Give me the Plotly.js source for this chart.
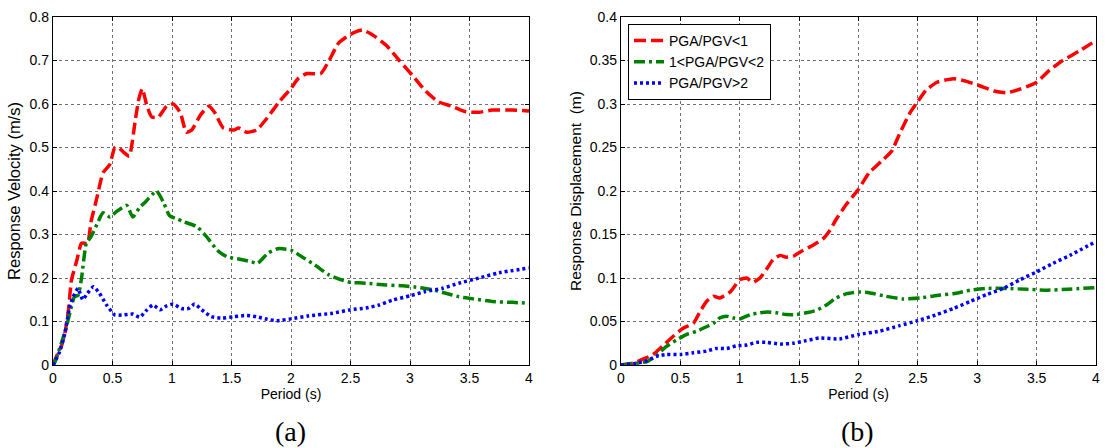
<!DOCTYPE html>
<html>
<head>
<meta charset="utf-8">
<script src="https://cdn.plot.ly/plotly-3.0.1.min.js"></script>
<style>
  html, body { margin: 0; padding: 0; background: #fff; }
  #chart { width: 1109px; height: 448px; }
</style>
</head>
<body>
<div id="chart"></div>
<script>
// Series labels (PGA/PGV ratio groups)
const seriesNames = ['PGA/PGV<1', '1<PGA/PGV<2', 'PGA/PGV>2'];

// (a) Response velocity spectra, m/s
const velPeriodLow = [0, 0.03, 0.07, 0.1, 0.13, 0.155, 0.2, 0.24, 0.29, 0.32, 0.365, 0.39, 0.42, 0.475, 0.52, 0.55, 0.59, 0.64, 0.69, 0.72, 0.75, 0.79, 0.83, 0.885, 0.955, 1.01, 1.07, 1.12, 1.165, 1.24, 1.31, 1.36, 1.43, 1.52, 1.56, 1.63, 1.71, 1.8, 1.9, 2.0, 2.065, 2.135, 2.25, 2.32, 2.4, 2.5, 2.6, 2.68, 2.8, 2.91, 3.02, 3.13, 3.24, 3.36, 3.47, 3.58, 3.69, 3.86, 4.0];
const velLow       = [0, 0.02, 0.043, 0.073, 0.127, 0.195, 0.24, 0.28, 0.28, 0.33, 0.38, 0.41, 0.442, 0.46, 0.5, 0.5, 0.49, 0.48, 0.56, 0.61, 0.635, 0.595, 0.57, 0.57, 0.595, 0.6, 0.58, 0.535, 0.54, 0.575, 0.595, 0.58, 0.545, 0.54, 0.545, 0.535, 0.54, 0.568, 0.605, 0.636, 0.66, 0.67, 0.67, 0.7, 0.74, 0.76, 0.77, 0.76, 0.735, 0.7, 0.666, 0.63, 0.605, 0.594, 0.582, 0.581, 0.586, 0.586, 0.584];

const velPeriodMid = [0, 0.014, 0.07, 0.11, 0.155, 0.18, 0.21, 0.24, 0.28, 0.32, 0.38, 0.42, 0.48, 0.53, 0.62, 0.67, 0.73, 0.77, 0.87, 0.93, 0.98, 1.05, 1.1, 1.21, 1.29, 1.38, 1.46, 1.57, 1.67, 1.72, 1.81, 1.9, 2.0, 2.09, 2.2, 2.32, 2.43, 2.5, 2.63, 2.8, 2.94, 3.05, 3.19, 3.3, 3.41, 3.53, 3.69, 3.86, 4.0];
const velMid       = [0, 0.006, 0.05, 0.085, 0.135, 0.157, 0.16, 0.2, 0.28, 0.295, 0.33, 0.35, 0.34, 0.352, 0.367, 0.34, 0.363, 0.373, 0.4, 0.373, 0.343, 0.335, 0.329, 0.318, 0.295, 0.264, 0.249, 0.243, 0.237, 0.234, 0.258, 0.268, 0.264, 0.249, 0.23, 0.207, 0.195, 0.19, 0.188, 0.184, 0.182, 0.179, 0.173, 0.165, 0.157, 0.152, 0.146, 0.144, 0.142];

const velPeriodHigh = [0, 0.014, 0.056, 0.1, 0.14, 0.17, 0.21, 0.25, 0.29, 0.34, 0.39, 0.45, 0.52, 0.59, 0.67, 0.73, 0.79, 0.84, 0.9, 0.955, 1.01, 1.08, 1.14, 1.19, 1.25, 1.33, 1.42, 1.52, 1.63, 1.71, 1.8, 1.88, 2.0, 2.15, 2.35, 2.5, 2.63, 2.74, 2.85, 3.0, 3.13, 3.27, 3.41, 3.58, 3.75, 4.0];
const velHigh       = [0, 0.006, 0.031, 0.073, 0.134, 0.157, 0.176, 0.15, 0.165, 0.18, 0.165, 0.138, 0.115, 0.115, 0.117, 0.11, 0.127, 0.138, 0.127, 0.136, 0.14, 0.13, 0.13, 0.14, 0.127, 0.111, 0.108, 0.111, 0.114, 0.111, 0.105, 0.102, 0.106, 0.113, 0.119, 0.127, 0.131, 0.138, 0.149, 0.159, 0.169, 0.176, 0.188, 0.2, 0.212, 0.223];

// (b) Response displacement spectra, m
const dispPeriodLow = [0, 0.1, 0.19, 0.27, 0.36, 0.44, 0.52, 0.61, 0.66, 0.72, 0.78, 0.83, 0.92, 1.0, 1.06, 1.11, 1.17, 1.23, 1.28, 1.34, 1.39, 1.45, 1.51, 1.62, 1.7, 1.76, 1.81, 1.9, 2.0, 2.09, 2.2, 2.28, 2.35, 2.43, 2.5, 2.57, 2.66, 2.8, 2.91, 3.02, 3.14, 3.25, 3.36, 3.5, 3.61, 3.72, 3.86, 4.0];
const dispLow       = [0, 0.002, 0.007, 0.012, 0.023, 0.033, 0.042, 0.048, 0.06, 0.073, 0.079, 0.077, 0.084, 0.098, 0.1, 0.095, 0.1, 0.111, 0.121, 0.126, 0.124, 0.125, 0.13, 0.138, 0.145, 0.155, 0.167, 0.185, 0.202, 0.221, 0.235, 0.246, 0.267, 0.289, 0.303, 0.316, 0.325, 0.329, 0.326, 0.321, 0.315, 0.313, 0.317, 0.325, 0.339, 0.35, 0.361, 0.373];

const dispPeriodMid = [0, 0.13, 0.22, 0.3, 0.38, 0.47, 0.55, 0.64, 0.72, 0.78, 0.83, 0.89, 0.95, 1.0, 1.09, 1.17, 1.23, 1.31, 1.39, 1.48, 1.56, 1.65, 1.73, 1.81, 1.9, 2.0, 2.09, 2.23, 2.37, 2.52, 2.66, 2.8, 2.94, 3.08, 3.25, 3.42, 3.59, 3.76, 4.0];
const dispMid       = [0, 0.002, 0.004, 0.011, 0.021, 0.029, 0.035, 0.039, 0.044, 0.048, 0.054, 0.056, 0.054, 0.053, 0.058, 0.06, 0.061, 0.06, 0.058, 0.058, 0.06, 0.063, 0.069, 0.077, 0.082, 0.084, 0.083, 0.079, 0.076, 0.077, 0.08, 0.082, 0.086, 0.088, 0.088, 0.087, 0.086, 0.087, 0.089];

const dispPeriodHigh = [0, 0.13, 0.22, 0.3, 0.38, 0.5, 0.61, 0.72, 0.8, 0.89, 0.97, 1.06, 1.14, 1.23, 1.34, 1.45, 1.56, 1.67, 1.84, 2.0, 2.18, 2.34, 2.5, 2.66, 2.8, 2.94, 3.08, 3.22, 3.36, 3.5, 3.64, 3.78, 4.0];
const dispHigh       = [0, 0.002, 0.005, 0.01, 0.012, 0.012, 0.014, 0.016, 0.019, 0.019, 0.022, 0.023, 0.026, 0.026, 0.024, 0.025, 0.028, 0.031, 0.03, 0.035, 0.039, 0.045, 0.051, 0.058, 0.065, 0.073, 0.081, 0.088, 0.098, 0.107, 0.117, 0.126, 0.142];

// Line styles for the three groups
const styles = [
  { color: '#ff0000', width: 3.5, dash: '12px,5px' },
  { color: '#008000', width: 3.5, dash: '11px,4px,3px,4px' },
  { color: '#0000ff', width: 3.5, dash: '3px,3px' }
];

function trace(x, y, i, xa, ya, showLegend) {
  return {
    x: x, y: y, type: 'scatter', mode: 'lines',
    name: seriesNames[i], xaxis: xa, yaxis: ya,
    showlegend: showLegend,
    line: Object.assign({ shape: 'spline', smoothing: 0.5 }, styles[i])
  };
}

const data = [
  trace(velPeriodLow, velLow, 0, 'x', 'y', false),
  trace(velPeriodMid, velMid, 1, 'x', 'y', false),
  trace(velPeriodHigh, velHigh, 2, 'x', 'y', false),
  trace(dispPeriodLow, dispLow, 0, 'x2', 'y2', true),
  trace(dispPeriodMid, dispMid, 1, 'x2', 'y2', true),
  trace(dispPeriodHigh, dispHigh, 2, 'x2', 'y2', true)
];

const FONT = 'Liberation Sans, Arial, sans-serif';
const SERIF = 'Liberation Serif, Times New Roman, serif';

function axisBase() {
  return {
    showline: true, linecolor: '#000', linewidth: 1.2, mirror: 'ticks',
    ticks: 'inside', ticklen: 4, tickcolor: '#000', tickwidth: 1,
    showgrid: true, gridcolor: '#707070', gridwidth: 1, griddash: 'dot',
    zeroline: false, fixedrange: true,
    tickfont: { family: FONT, size: 14, color: '#000' }
  };
}

const xDomA = [53 / 1109, 529 / 1109];
const xDomB = [621 / 1109, 1096 / 1109];
const yDom = [(448 - 365) / 448, (448 - 17) / 448];

const layout = {
  width: 1109, height: 448,
  margin: { l: 0, r: 0, t: 0, b: 0 },
  paper_bgcolor: '#fff', plot_bgcolor: '#fff',
  font: { family: FONT, color: '#000' },
  xaxis: Object.assign(axisBase(), {
    domain: xDomA, range: [0, 4], dtick: 0.5, anchor: 'y',
    title: { text: 'Period (s)', font: { family: FONT, size: 14, color: '#000' }, standoff: 3 }
  }),
  yaxis: Object.assign(axisBase(), {
    domain: yDom, range: [0, 0.8], dtick: 0.1, anchor: 'x',
    title: { text: 'Response Velocity (m/s)', font: { family: FONT, size: 16.5, color: '#000' }, standoff: 4 }
  }),
  xaxis2: Object.assign(axisBase(), {
    domain: xDomB, range: [0, 4], dtick: 0.5, anchor: 'y2',
    title: { text: 'Period (s)', font: { family: FONT, size: 14, color: '#000' }, standoff: 3 }
  }),
  yaxis2: Object.assign(axisBase(), {
    domain: yDom, range: [0, 0.4], dtick: 0.05, anchor: 'x2',
    title: { text: 'Response Displacement  (m)', font: { family: FONT, size: 15.5, color: '#000' }, standoff: 4 }
  }),
  legend: {
    x: 628 / 1109, y: (448 - 24) / 448, xanchor: 'left', yanchor: 'top',
    bgcolor: '#fff', bordercolor: '#000', borderwidth: 1,
    font: { family: FONT, size: 14, color: '#000' },
    tracegroupgap: 0
  },
  annotations: [
    { text: '(a)', xref: 'paper', yref: 'paper', x: 290 / 1109, y: (448 - 431) / 448,
      xanchor: 'center', yanchor: 'middle', showarrow: false,
      font: { family: SERIF, size: 28, color: '#000' } },
    { text: '(b)', xref: 'paper', yref: 'paper', x: 858 / 1109, y: (448 - 431) / 448,
      xanchor: 'center', yanchor: 'middle', showarrow: false,
      font: { family: SERIF, size: 28, color: '#000' } }
  ]
};

Plotly.newPlot('chart', data, layout, { staticPlot: true, displayModeBar: false });
</script>
</body>
</html>
